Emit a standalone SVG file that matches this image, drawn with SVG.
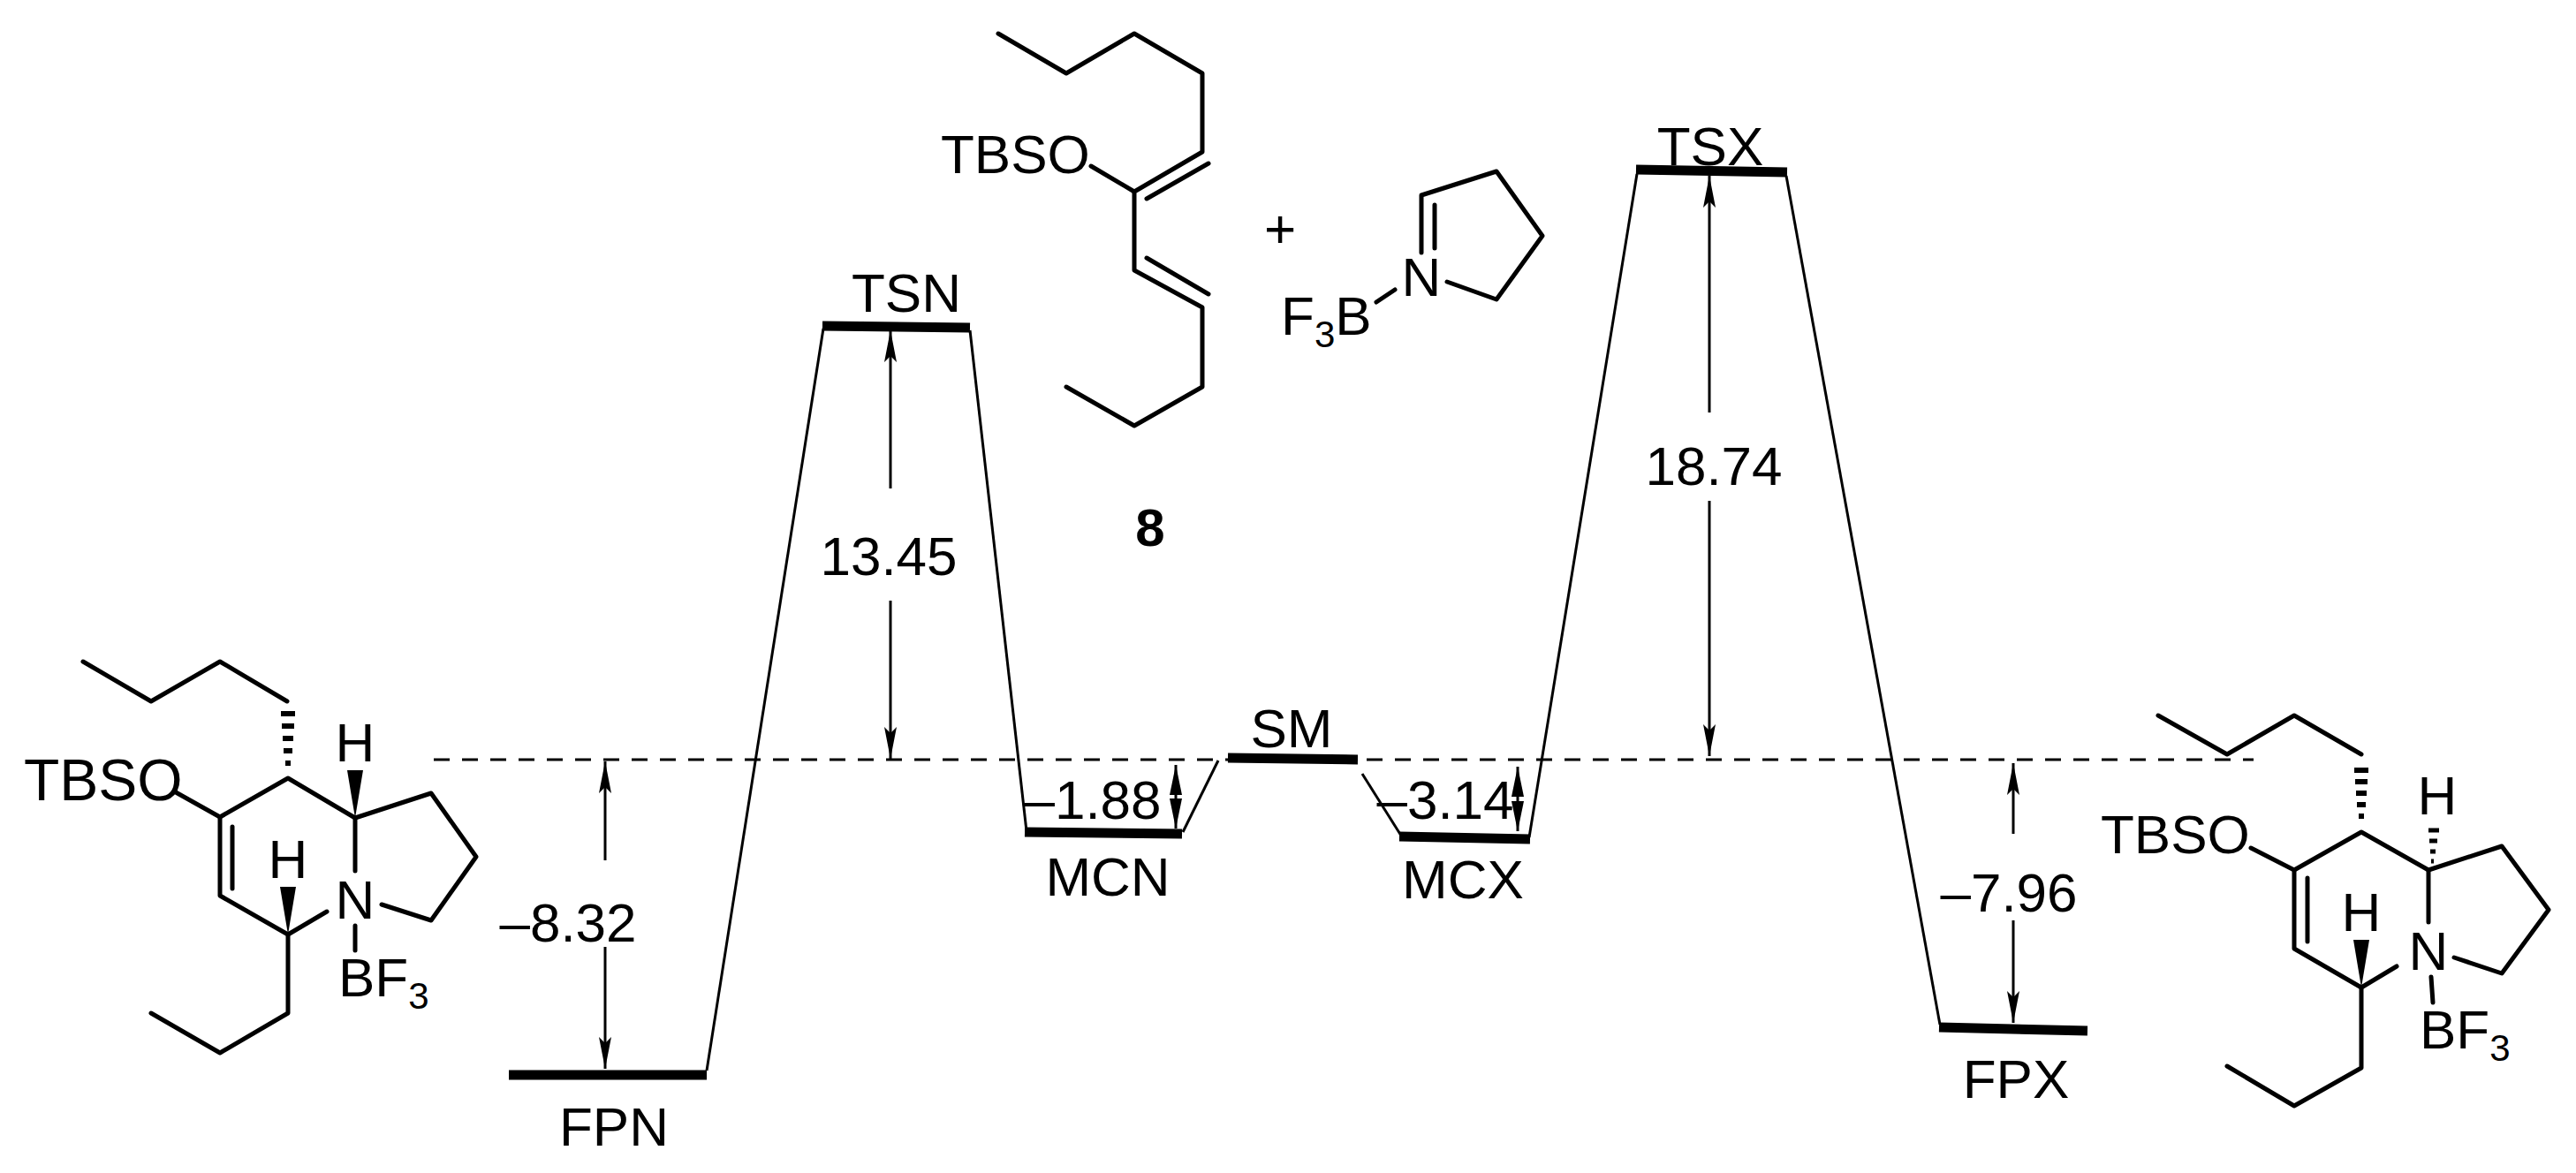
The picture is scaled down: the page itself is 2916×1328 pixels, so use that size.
<svg xmlns="http://www.w3.org/2000/svg" width="2916" height="1328" viewBox="0 0 2916 1328">
<defs>
<style>
.b{stroke:#000;stroke-width:5;fill:none;stroke-linecap:round;stroke-linejoin:round}
.e{stroke:#000;stroke-width:3;fill:none}
.lv{stroke:#000;stroke-width:11;fill:none}
.t{font-family:"Liberation Sans",Arial,sans-serif;fill:#000}
.m{font-size:66px}
.l{font-size:62px}
.w{fill:#000;stroke:none}
</style>
<marker id="ah" viewBox="0 0 36 14" refX="36" refY="7" markerWidth="36" markerHeight="14" markerUnits="userSpaceOnUse" orient="auto"><path d="M0,0 L36,7 L0,14 L7,7 Z" fill="#000"/></marker>
<marker id="as" viewBox="0 0 34 14" refX="34" refY="7" markerWidth="34" markerHeight="14" markerUnits="userSpaceOnUse" orient="auto"><path d="M0,0 L34,7 L0,14 Z" fill="#000"/></marker>
</defs>
<rect width="2916" height="1328" fill="#fff"/>

<g id="connectors">
<line x1="491" y1="860" x2="2551" y2="860" stroke="#000" stroke-width="3" stroke-dasharray="18 14"/>
<polyline class="e" points="800,1212 932,372"/>
<polyline class="e" points="1098,374 1162,941"/>
<polyline class="e" points="1339,942 1379,861"/>
<polyline class="e" points="1542,876 1586,946"/>
<polyline class="e" points="1731,948 1853,197"/>
<polyline class="e" points="2022,199 2196,1160"/>
<line class="e" x1="1008" y1="553" x2="1008" y2="374" marker-end="url(#ah)"/>
<line class="e" x1="1008" y1="680" x2="1008" y2="859" marker-end="url(#ah)"/>
<line class="e" x1="1935" y1="467" x2="1935" y2="199" marker-end="url(#ah)"/>
<line class="e" x1="1935" y1="567" x2="1935" y2="856" marker-end="url(#ah)"/>
<line class="e" x1="685" y1="974" x2="685" y2="862" marker-end="url(#ah)"/>
<line class="e" x1="685" y1="1072" x2="685" y2="1210" marker-end="url(#ah)"/>
<line class="e" x1="2279" y1="944" x2="2279" y2="864" marker-end="url(#ah)"/>
<line class="e" x1="2279" y1="1042" x2="2279" y2="1158" marker-end="url(#ah)"/>
<line class="e" x1="1331" y1="902" x2="1331" y2="866" marker-end="url(#as)"/>
<line class="e" x1="1331" y1="902" x2="1331" y2="938" marker-end="url(#as)"/>
<line class="e" x1="1718" y1="905" x2="1718" y2="868" marker-end="url(#as)"/>
<line class="e" x1="1718" y1="905" x2="1718" y2="941" marker-end="url(#as)"/>
</g>

<g id="FPN"><line class="lv" x1="576" y1="1217" x2="800" y2="1217"/><text class="t l" x="695" y="1297" text-anchor="middle">FPN</text><text class="t l" x="643" y="1066" text-anchor="middle">–8.32</text></g>
<g id="TSN"><line class="lv" x1="931" y1="369" x2="1098" y2="371"/><text class="t l" x="1026" y="353" text-anchor="middle">TSN</text><text class="t l" x="1006" y="651" text-anchor="middle">13.45</text></g>
<g id="MCN"><line class="lv" x1="1160" y1="942" x2="1338" y2="944"/><text class="t l" x="1254" y="1014" text-anchor="middle">MCN</text><text class="t l" x="1237" y="927" text-anchor="middle">–1.88</text></g>
<g id="SM"><line class="lv" x1="1390" y1="858" x2="1537" y2="860"/><text class="t l" x="1462" y="846" text-anchor="middle">SM</text></g>
<g id="MCX"><line class="lv" x1="1584" y1="947" x2="1732" y2="950"/><text class="t l" x="1656" y="1017" text-anchor="middle">MCX</text><text class="t l" x="1636" y="927" text-anchor="middle">–3.14</text></g>
<g id="TSX"><line class="lv" x1="1852" y1="192" x2="2023" y2="195"/><text class="t l" x="1936" y="187" text-anchor="middle">TSX</text><text class="t l" x="1940" y="549" text-anchor="middle">18.74</text></g>
<g id="FPX"><line class="lv" x1="2195" y1="1163" x2="2363" y2="1167"/><text class="t l" x="2282" y="1243" text-anchor="middle">FPX</text><text class="t l" x="2274" y="1032" text-anchor="middle">–7.96</text></g>

<g id="molecule-left">
<polyline class="b" points="94,749 171,794 249,749 325,794"/>
<line x1="318" y1="808" x2="334" y2="808" stroke="#000" stroke-width="6"/>
<line x1="319" y1="822" x2="333" y2="822" stroke="#000" stroke-width="6"/>
<line x1="320" y1="836" x2="332" y2="836" stroke="#000" stroke-width="6"/>
<line x1="321" y1="850" x2="331" y2="850" stroke="#000" stroke-width="6"/>
<line x1="323" y1="864" x2="329" y2="864" stroke="#000" stroke-width="6"/>
<polyline class="b" points="199,897 249,925 326,881 402,926"/>
<polyline class="b" points="249,925 249,1014 326,1058 370,1032"/>
<line class="b" x1="263" y1="936" x2="263" y2="1006"/>
<line class="b" x1="402" y1="926" x2="402" y2="986"/>
<polyline class="b" points="402,926 488,898 539,970 488,1042 432,1024"/>
<line class="b" x1="402" y1="1048" x2="402" y2="1076"/>
<polyline class="b" points="326,1058 326,1147 249,1192 171,1147"/>
<polygon class="w" points="402,926 393,872 411,872"/>
<polygon class="w" points="326,1058 317,1004 335,1004"/>
<text class="t m" x="27" y="906">TBSO</text>
<text class="t l" x="402" y="862" text-anchor="middle">H</text>
<text class="t l" x="326" y="994" text-anchor="middle">H</text>
<text class="t l" x="402" y="1040" text-anchor="middle">N</text>
<text class="t l" x="383" y="1128">BF<tspan font-size="42" dy="14">3</tspan></text>
</g>

<g id="diene-8">
<polyline class="b" points="1130,38 1207,83 1284,38 1361,83 1361,172 1284,217 1284,306 1361,348 1361,438 1284,482 1207,438"/>
<line class="b" x1="1235" y1="188" x2="1284" y2="217"/>
<line class="b" x1="1298" y1="225" x2="1368" y2="185"/>
<line class="b" x1="1298" y1="292" x2="1368" y2="333"/>
<text class="t l" x="1065" y="196">TBSO</text>
<text class="t" x="1302" y="618" font-size="60" font-weight="bold" text-anchor="middle">8</text>
<text class="t l" x="1449" y="280" text-anchor="middle">+</text>
</g>

<g id="imine">
<polyline class="b" points="1609,286 1609,221 1694,194 1746,267 1694,339 1638,319"/>
<line class="b" x1="1624" y1="232" x2="1624" y2="281"/>
<line class="b" x1="1558" y1="342" x2="1579" y2="328"/>
<text class="t l" x="1609" y="335" text-anchor="middle">N</text>
<text class="t l" x="1450" y="379">F<tspan font-size="42" dy="14">3</tspan><tspan dy="-14">B</tspan></text>
</g>

<g id="molecule-right">
<polyline class="b" points="2443,810 2521,854 2597,810 2673,854"/>
<line x1="2665" y1="872" x2="2681" y2="872" stroke="#000" stroke-width="6"/>
<line x1="2666" y1="885" x2="2680" y2="885" stroke="#000" stroke-width="6"/>
<line x1="2667" y1="898" x2="2679" y2="898" stroke="#000" stroke-width="6"/>
<line x1="2668" y1="911" x2="2678" y2="911" stroke="#000" stroke-width="6"/>
<line x1="2670" y1="924" x2="2676" y2="924" stroke="#000" stroke-width="6"/>
<line x1="2749" y1="940" x2="2761" y2="940" stroke="#000" stroke-width="5"/>
<line x1="2750" y1="952" x2="2759" y2="952" stroke="#000" stroke-width="5"/>
<line x1="2751" y1="964" x2="2757" y2="964" stroke="#000" stroke-width="5"/>
<line x1="2752" y1="975" x2="2755" y2="975" stroke="#000" stroke-width="5"/>
<polyline class="b" points="2548,960 2597,985 2673,942 2749,985"/>
<polyline class="b" points="2597,985 2597,1074 2673,1118 2713,1094"/>
<line class="b" x1="2612" y1="994" x2="2612" y2="1066"/>
<line class="b" x1="2749" y1="985" x2="2749" y2="1044"/>
<polyline class="b" points="2749,985 2832,958 2885,1030 2832,1102 2778,1084"/>
<line class="b" x1="2752" y1="1106" x2="2754" y2="1135"/>
<polyline class="b" points="2673,1118 2673,1209 2597,1252 2521,1207"/>
<polygon class="w" points="2673,1118 2664,1064 2682,1064"/>
<text class="t l" x="2378" y="966">TBSO</text>
<text class="t l" x="2759" y="922" text-anchor="middle">H</text>
<text class="t l" x="2673" y="1054" text-anchor="middle">H</text>
<text class="t l" x="2749" y="1098" text-anchor="middle">N</text>
<text class="t l" x="2739" y="1187">BF<tspan font-size="42" dy="14">3</tspan></text>
</g>
</svg>
